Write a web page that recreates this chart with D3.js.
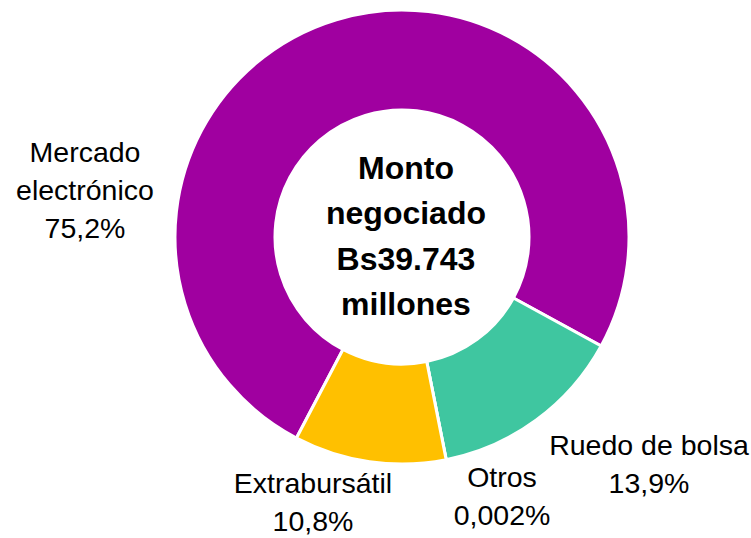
<!DOCTYPE html>
<html>
<head>
<meta charset="utf-8">
<script src="https://cdn.jsdelivr.net/npm/d3@7"></script>
<style>
  html, body { margin: 0; padding: 0; background: #fff; }
  svg { display: block; font-family: "Liberation Sans", Arial, sans-serif; }
</style>
</head>
<body>
<div id="chart"></div>
<script>
  // data, in the order the slices run clockwise
  const categories = ["Mercado electrónico", "Ruedo de bolsa", "Otros", "Extrabursátil"];
  const shares = [75.2, 13.9, 0.002, 10.8];
  const shareLabels = ["75,2%", "13,9%", "0,002%", "10,8%"];
  const labelLines = [["Mercado", "electrónico"], ["Ruedo de bolsa"], ["Otros"], ["Extrabursátil"]];
  const centerLines = ["Monto", "negociado", "Bs39.743", "millones"];

  const colors = ["#a000a0", "#3fc6a0", "#3fc6a0", "#ffc000"];

  const width = 751, height = 538;
  const cx = 402, cy = 237;
  const outerR = 227, innerR = 127;

  // where each label block sits (centre x, first baseline)
  const labelPos = [
    { x: 85, y: 162 },
    { x: 649, y: 455 },
    { x: 502, y: 487 },
    { x: 313, y: 493 }
  ];

  const svg = d3.select("#chart").append("svg")
    .attr("width", width)
    .attr("height", height);

  const startAngle = 207.7 * Math.PI / 180;
  const pie = d3.pie()
    .sort(null)
    .value(d => d)
    .startAngle(startAngle)
    .endAngle(startAngle + 2 * Math.PI);

  const arc = d3.arc()
    .innerRadius(innerR)
    .outerRadius(outerR);

  const g = svg.append("g")
    .attr("transform", "translate(" + cx + "," + cy + ")");

  g.selectAll("path")
    .data(pie(shares))
    .join("path")
    .attr("d", arc)
    .attr("fill", (d, i) => colors[i])
    .attr("stroke", "#fff")
    .attr("stroke-width", 3)
    .attr("stroke-linejoin", "miter");

  // centre title
  svg.append("text")
    .attr("text-anchor", "middle")
    .attr("font-size", 32)
    .attr("font-weight", "bold")
    .attr("fill", "#000")
    .selectAll("tspan")
    .data(centerLines)
    .join("tspan")
    .attr("x", 406)
    .attr("y", (d, i) => 179 + i * 45.3)
    .text(d => d);

  // slice labels
  for (let i = 0; i < categories.length; i++) {
    const lines = labelLines[i].concat([shareLabels[i]]);
    svg.append("text")
      .attr("text-anchor", "middle")
      .attr("font-size", 28.5)
      .attr("fill", "#000")
      .selectAll("tspan")
      .data(lines)
      .join("tspan")
      .attr("x", labelPos[i].x)
      .attr("y", (d, k) => labelPos[i].y + k * 38)
      .text(d => d);
  }
</script>
</body>
</html>
